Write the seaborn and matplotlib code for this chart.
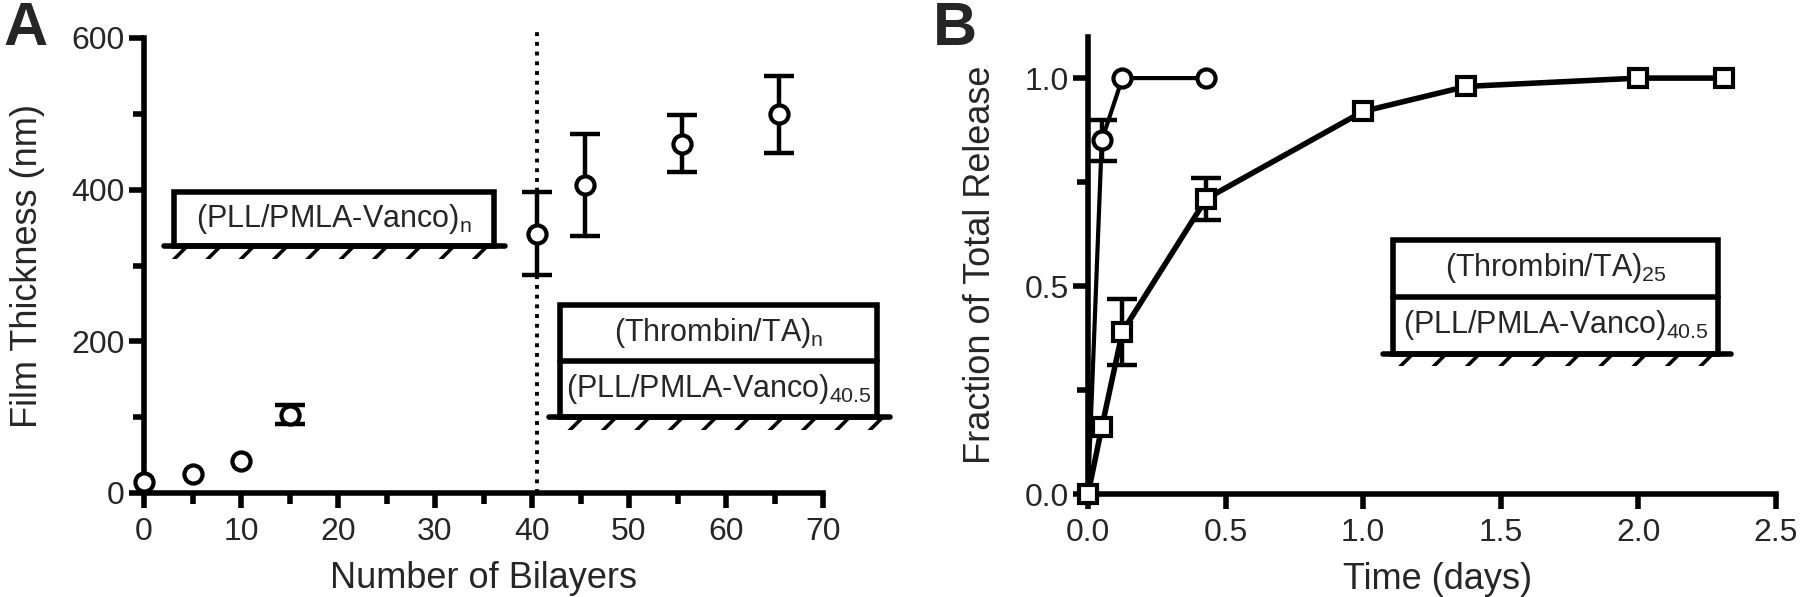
import numpy as np
import matplotlib
matplotlib.use("Agg")
import matplotlib.pyplot as plt
import matplotlib.patches as mpatches
from matplotlib.ticker import MultipleLocator, FormatStrFormatter
import seaborn as sns
import pandas as pd

# Panel A: film growth
bilayers = [0, 5, 10, 15, 40.5, 45.5, 55.5, 65.5]
thickness = [15, 25.5, 42, 103.5, 342, 406.5, 460.5, 499.5]
thickness_err = [0, 0, 0, 12.75, 55, 67, 37.5, 51]

# Panel B: release profiles
time_circle = [0, 0.05, 0.125, 0.43]
frac_circle = [0, 0.85, 1.0, 1.0]
err_circle = [0, 0.05, 0, 0]
time_square = [0, 0.05, 0.125, 0.43, 1.0, 1.375, 2.0, 2.31]
frac_square = [0, 0.16, 0.39, 0.71, 0.92, 0.98, 1.0, 1.0]
err_square = [0, 0, 0.08, 0.05, 0, 0, 0, 0]

sns.set_style("ticks")
plt.rcParams['font.family'] = ['Liberation Sans', 'DejaVu Sans']
plt.rcParams['mathtext.fontset'] = 'custom'
plt.rcParams['mathtext.rm'] = 'Liberation Sans'
plt.rcParams['mathtext.default'] = 'regular'
plt.rcParams['hatch.linewidth'] = 2.6

LW = 4
TICK_FS = 23
LABEL_FS = 26
BOX_FS = 22

fig = plt.figure(figsize=(18, 5.97), dpi=100)
axA = fig.add_axes([144 / 1800, 1 - 493 / 597, 679 / 1800, 455 / 597])
axB = fig.add_axes([1088 / 1800, 1 - 494 / 597, 688 / 1800, 457.5 / 597])


def style_axis(ax):
    sns.despine(ax=ax)
    for s in ['left', 'bottom']:
        ax.spines[s].set_linewidth(LW)
        ax.spines[s].set_color('black')
    ax.tick_params(which='both', direction='out', width=LW, color='black')
    ax.tick_params(which='major', length=11, labelsize=TICK_FS)
    ax.tick_params(which='minor', length=8)
    ax.tick_params(axis='x', which='major', pad=6)
    ax.tick_params(axis='y', which='major', pad=3)


def error_bars(ax, x, y, err):
    x, y, err = np.asarray(x), np.asarray(y), np.asarray(err)
    keep = err > 0
    ax.errorbar(x[keep], y[keep], yerr=err[keep], fmt='none', ecolor='black',
                elinewidth=3.2, capsize=11, capthick=3.2, zorder=2, clip_on=False)


def layer_box(ax, x0, x1, y0, y1, ymid, gx0, gx1, labels):
    tr = ax.transAxes
    ax.add_patch(mpatches.Rectangle((gx0, y0 - 0.028), gx1 - gx0, 0.028, transform=tr,
                                    clip_on=False, fill=False, hatch='/',
                                    edgecolor='black', linewidth=0))
    ax.add_patch(mpatches.Rectangle((x0, y0), x1 - x0, y1 - y0, transform=tr,
                                    clip_on=False, fill=False, edgecolor='black',
                                    linewidth=LW))
    ax.plot([gx0, gx1], [y0, y0], transform=tr, clip_on=False, color='black', lw=LW)
    if ymid is not None:
        ax.plot([x0, x1], [ymid, ymid], transform=tr, clip_on=False, color='black', lw=LW)
        ax.text((x0 + x1) / 2, (ymid + y1) / 2, labels[0], transform=tr,
                ha='center', va='center', fontsize=BOX_FS)
        ax.text((x0 + x1) / 2, (y0 + ymid) / 2, labels[1], transform=tr,
                ha='center', va='center', fontsize=BOX_FS)
    else:
        ax.text((x0 + x1) / 2, (y0 + y1) / 2, labels[0], transform=tr,
                ha='center', va='center', fontsize=BOX_FS)


# ---- Panel A ----
dfA = pd.DataFrame({"bilayers": bilayers, "thickness": thickness})
error_bars(axA, bilayers, thickness, thickness_err)
axA.plot([40.5, 40.5], [0, 615], color='black', lw=2.8, ls=(0, (1, 1.5)),
         clip_on=False, zorder=1)
sns.scatterplot(data=dfA, x="bilayers", y="thickness", ax=axA, marker='o', s=170,
                facecolor='white', edgecolor='black', linewidth=3, zorder=3,
                clip_on=False)
axA.set_xlim(0, 70)
axA.set_ylim(0, 600)
axA.xaxis.set_major_locator(MultipleLocator(10))
axA.xaxis.set_minor_locator(MultipleLocator(5))
axA.yaxis.set_major_locator(MultipleLocator(200))
axA.yaxis.set_minor_locator(MultipleLocator(100))
style_axis(axA)
axA.set_xlabel("Number of Bilayers", fontsize=LABEL_FS, va='top')
axA.set_ylabel("Film Thickness (nm)", fontsize=LABEL_FS)
axA.xaxis.set_label_coords(0.5, -0.15)
axA.yaxis.set_label_coords(-0.146, 0.5)

layer_box(axA, 0.044, 0.515, 0.5425, 0.6625, None, 0.029, 0.532,
          [r'(PLL/PMLA-Vanco)$_{n}$'])
layer_box(axA, 0.613, 1.079, 0.1675, 0.4125, 0.29, 0.596, 1.099,
          [r'(Thrombin/TA)$_{n}$', r'(PLL/PMLA-Vanco)$_{40.5}$'])

# ---- Panel B ----
dfC = pd.DataFrame({"time": time_circle, "frac": frac_circle})
dfS = pd.DataFrame({"time": time_square, "frac": frac_square})
error_bars(axB, time_circle, frac_circle, err_circle)
error_bars(axB, time_square, frac_square, err_square)
sns.lineplot(data=dfC, x="time", y="frac", ax=axB, sort=False, color='black', lw=3,
             marker='o', markersize=13, markerfacecolor='white',
             markeredgecolor='black', markeredgewidth=3, zorder=3, clip_on=False)
sns.lineplot(data=dfS, x="time", y="frac", ax=axB, sort=False, color='black', lw=4,
             marker='s', markersize=13, markerfacecolor='white',
             markeredgecolor='black', markeredgewidth=3, zorder=4, clip_on=False)
axB.set_xlim(0, 2.5)
axB.set_ylim(0, 1.1)
axB.xaxis.set_major_locator(MultipleLocator(0.5))
axB.yaxis.set_major_locator(MultipleLocator(0.5))
axB.yaxis.set_minor_locator(MultipleLocator(0.25))
axB.xaxis.set_major_formatter(FormatStrFormatter('%.1f'))
axB.yaxis.set_major_formatter(FormatStrFormatter('%.1f'))
style_axis(axB)
axB.set_xlabel("Time (days)", fontsize=LABEL_FS, va='top')
axB.set_ylabel("Fraction of Total Release", fontsize=LABEL_FS)
axB.xaxis.set_label_coords(0.508, -0.148)
axB.yaxis.set_label_coords(-0.131, 0.5)

layer_box(axB, 0.444, 0.9156, 0.307, 0.556, 0.431, 0.429, 0.934,
          [r'(Thrombin/TA)$_{25}$', r'(PLL/PMLA-Vanco)$_{40.5}$'])

fig.text(0.002, 0.998, "A", fontsize=44, fontweight='bold', va='top', ha='left')
fig.text(0.518, 0.998, "B", fontsize=44, fontweight='bold', va='top', ha='left')

fig.savefig("out.png", dpi=100, facecolor='white')
